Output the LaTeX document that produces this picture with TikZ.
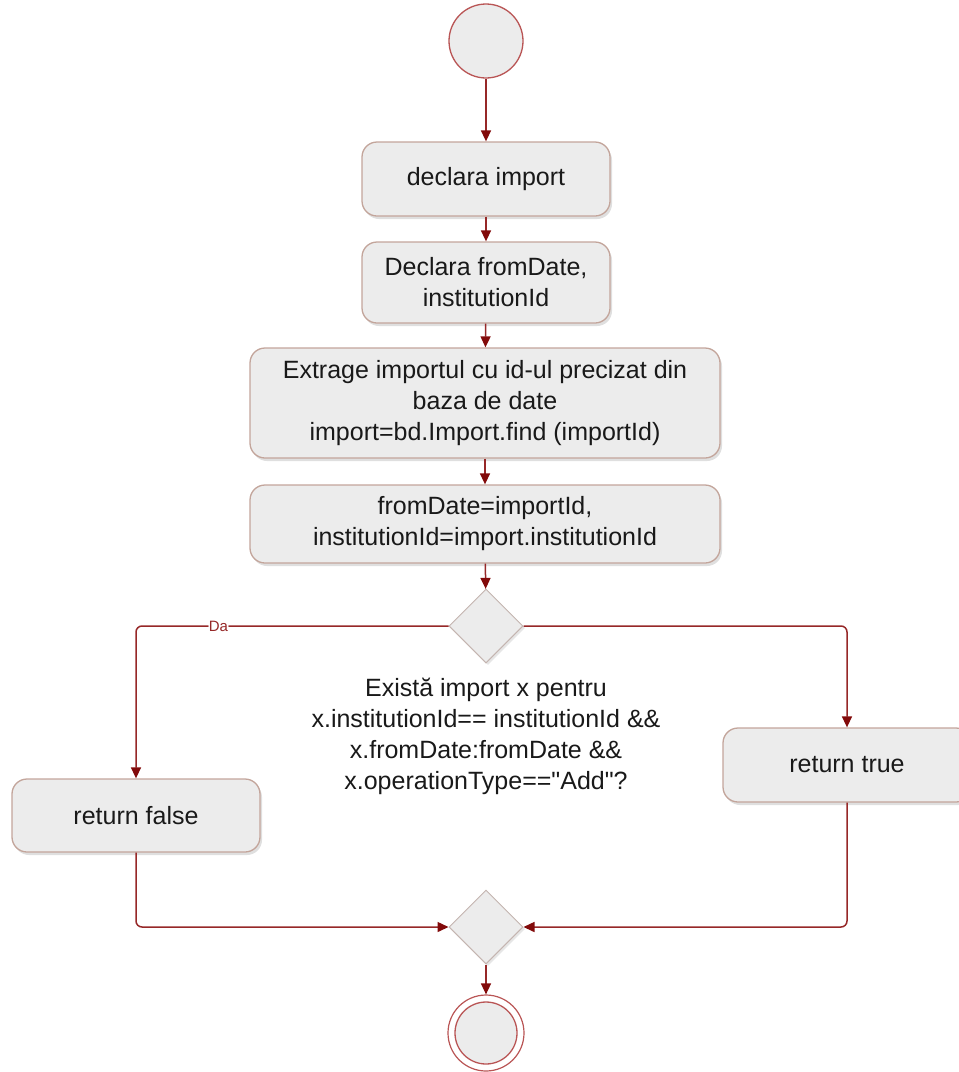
\documentclass[tikz,border=0pt]{standalone}
\usepackage{fontspec}
\setmainfont{Liberation Sans}[Ligatures=TeXOff]
\usetikzlibrary{arrows.meta,shapes.geometric,shadows}
\definecolor{flowline}{RGB}{150,40,40}
\definecolor{tipred}{RGB}{130,10,10}
\definecolor{boxedge}{RGB}{195,165,155}
\definecolor{boxfill}{RGB}{236,236,236}
\definecolor{ringred}{RGB}{185,85,85}
\definecolor{txt}{RGB}{25,25,25}
\tikzset{
  actbox/.style={draw=boxedge, line width=1.3pt, fill=boxfill, rounded corners=15pt,
    align=center, text=txt, inner sep=0pt,
    font=\fontsize{25}{31}\selectfont,
    drop shadow={opacity=0.25, shadow xshift=2pt, shadow yshift=-3pt}},
  gate/.style={draw=boxedge!80!black!60, line width=1pt, fill=boxfill, diamond, aspect=1,
    minimum width=74pt, minimum height=74pt, inner sep=0pt,
    drop shadow={opacity=0.2, shadow xshift=2pt, shadow yshift=-2pt}},
  startdot/.style={draw=ringred, line width=1.3pt, fill=boxfill, circle,
    minimum size=74pt, inner sep=0pt},
  flow/.style={draw=flowline, line width=1.5pt, rounded corners=6pt,
    -{Triangle[length=11pt,width=10pt,fill=tipred,color=tipred]}},
}
\begin{document}
\begin{tikzpicture}[x=1pt,y=-1pt]
  \useasboundingbox (0,0) rectangle (959,1072);

  % start and end markers
  \node[startdot] (start) at (486,41) {};
  \node[draw=ringred, line width=1.2pt, circle, minimum size=76pt, inner sep=0pt] (endring) at (486,1033) {};
  \node[startdot, minimum size=62pt] (end) at (486,1033) {};

  % actions
  \node[actbox, minimum width=248pt, minimum height=74pt] (decl) at (486,179) {declara import};
  \node[actbox, minimum width=248pt, minimum height=81pt] (declv) at (486,282.5) {Declara fromDate,\\institutionId};
  \node[actbox, minimum width=470pt, minimum height=110pt] (fetch) at (485,403) {Extrage importul cu id-ul precizat din\\baza de date\\import=bd.Import.find (importId)};
  \node[actbox, minimum width=470pt, minimum height=78pt] (assign) at (485,524) {fromDate=importId,\\institutionId=import.institutionId};

  % decision and merge
  \node[gate] (check) at (486,626) {};
  \node[gate] (merge) at (486,927) {};
  \node[align=center, text=txt, font=\fontsize{25}{31}\selectfont] (question) at (486,736)
    {Există import x pentru\\x.institutionId== institutionId \&\&\\x.fromDate:fromDate \&\&\\x.operationType=="Add"?};

  \node[actbox, minimum width=248pt, minimum height=73pt] (rfalse) at (136,815.5) {return false};
  \node[actbox, minimum width=248pt, minimum height=74pt] (rtrue) at (847,765) {return true};

  % connectors
  \draw[flow] (start) -- (decl);
  \draw[flow] (decl) -- (declv);
  \draw[flow] (declv) -- (fetch);
  \draw[flow] (fetch) -- (assign);
  \draw[flow] (assign) -- (check);
  \draw[flow] (check.west) -| node[pos=0.368, fill=white, inner sep=0.5pt, text=flowline,
      font=\fontsize{15}{15}\selectfont] (yes) {Da} (rfalse.north);
  \draw[flow] (check.east) -| (rtrue.north);
  \draw[flow] (rfalse.south) |- (merge.west);
  \draw[flow] (rtrue.south) |- (merge.east);
  \draw[flow] (merge) -- (endring);
\end{tikzpicture}
\end{document}
